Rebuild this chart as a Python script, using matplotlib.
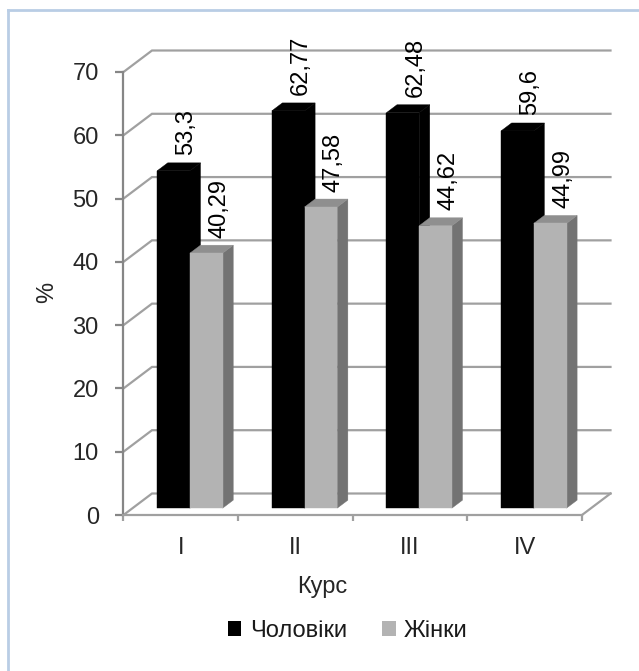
import matplotlib
matplotlib.use('Agg')
import matplotlib.pyplot as plt
from matplotlib.patches import Polygon, Patch
from matplotlib.lines import Line2D

# ---------------- data ----------------
categories = ['I', 'II', 'III', 'IV']
men = [53.3, 62.77, 62.48, 59.6]
women = [40.29, 47.58, 44.62, 44.99]
men_labels = ['53,3', '62,77', '62,48', '59,6']
women_labels = ['40,29', '47,58', '44,62', '44,99']
series_names = ['Чоловіки', 'Жінки']
y_ticks = [0, 10, 20, 30, 40, 50, 60, 70]
x_title = 'Курс'
y_title = '%'

plt.rcParams['font.family'] = ['Liberation Sans', 'DejaVu Sans']
FS = 17

W, H = 639, 671
fig = plt.figure(figsize=(W / 100, H / 100), dpi=100)
fig.patch.set_facecolor('white')

n = len(categories)
ax = fig.add_axes([123.5 / W, (H - 515) / H, 458.5 / W, 443 / H])
ax.set_xlim(0, n)
ax.set_ylim(0, 70)
ax.patch.set_alpha(0)

PX_X = 458.5 / n        # pixels per category
PX_Y = 443 / 70         # pixels per value unit
# oblique depth of the floor (styling)
DXC = 28.5 / PX_X
DYV = 21.5 / PX_Y


def P(x, y, d):
    return (x + d * DXC, y + d * DYV)


grid_c = '#a0a0a0'
axis_c = '#868686'

# back wall gridlines + left wall diagonals
for t in y_ticks:
    ax.plot([0, DXC, n + DXC], [t, t + DYV, t + DYV], color=grid_c, lw=1.6,
            clip_on=False, zorder=1, solid_joinstyle='miter')
# floor right edge
ax.plot([n, n + DXC], [0, DYV], color=grid_c, lw=1.6, clip_on=False, zorder=1)

# bars
bw = 1 / 3.5
d0, d1 = 0.32, 0.69
series = [
    (men, men_labels, '#000000', '#000000', '#000000'),
    (women, women_labels, '#b3b3b3', '#737373', '#8f8f8f'),
]
for i in range(n):
    for j, (vals, labs, cf, cs, ct) in enumerate(series):
        x0 = i + 0.5 - bw + j * bw
        x1 = x0 + bw
        v = vals[i]
        front = [P(x0, 0, d0), P(x1, 0, d0), P(x1, v, d0), P(x0, v, d0)]
        side = [P(x1, 0, d0), P(x1, 0, d1), P(x1, v, d1), P(x1, v, d0)]
        top = [P(x0, v, d0), P(x1, v, d0), P(x1, v, d1), P(x0, v, d1)]
        for poly, c in ((side, cs), (top, ct), (front, cf)):
            ax.add_patch(Polygon(poly, closed=True, facecolor=c, edgecolor=c,
                                 lw=0.3, clip_on=False, zorder=3))
        # label: baseline to the right of the bar's front centre, above the top
        lx = P((x0 + x1) / 2, v, d0)[0] + 19 / PX_X
        ly = P(x0, v, d1)[1] + 7.5 / PX_Y
        ax.text(lx, ly, labs[i], rotation=90, rotation_mode='anchor',
                ha='left', va='baseline', fontsize=FS, color='black',
                zorder=5, clip_on=False)

# axes / ticks
for s in ('top', 'right'):
    ax.spines[s].set_visible(False)
ax.spines['left'].set_color(axis_c)
ax.spines['left'].set_linewidth(1.6)
ax.spines['bottom'].set_color(grid_c)
ax.spines['bottom'].set_linewidth(1.6)
ax.spines['left'].set_zorder(2)
ax.spines['bottom'].set_zorder(2)

ax.set_yticks(y_ticks)
ax.set_yticklabels([str(t) for t in y_ticks])
ax.tick_params(axis='y', length=5.8, width=1.6, color=axis_c, pad=12,
               labelsize=FS, labelcolor='#262626')

ax.set_xticks(range(n + 1))
ax.set_xticklabels([''] * (n + 1))
ax.set_xticks([i + 0.5 for i in range(n)], minor=True)
ax.set_xticklabels(categories, minor=True)
ax.tick_params(axis='x', which='major', length=4.3, width=1.6, color=grid_c)
ax.tick_params(axis='x', which='minor', length=0, pad=16, labelsize=FS,
               labelcolor='#262626')

fig.text(47 / W, 1 - 292 / H, y_title, rotation=90, ha='center', va='center',
         fontsize=FS, color='#262626')
fig.text(322 / W, 1 - 593 / H, x_title, ha='center', va='baseline',
         fontsize=FS, color='#262626')

handles = [Patch(facecolor='#000000', edgecolor='none'),
           Patch(facecolor='#b3b3b3', edgecolor='none')]
fig.legend(handles=handles, labels=series_names, loc='center',
           bbox_to_anchor=(348 / W, 1 - 631 / H), ncol=2, frameon=False,
           handlelength=0.56, handleheight=0.56, handletextpad=0.36,
           columnspacing=1.5, fontsize=FS, borderpad=0,
           labelcolor='#1a1a1a')

# chart-area border (left and top edges visible)
fig.add_artist(Line2D([8 / W, 8 / W], [0, 1 - 10 / H], transform=fig.transFigure,
                      color='#b9cde5', lw=2))
fig.add_artist(Line2D([8 / W, 1], [1 - 10 / H, 1 - 10 / H], transform=fig.transFigure,
                      color='#b9cde5', lw=2))

fig.savefig('out.png', dpi=100, facecolor='white')
